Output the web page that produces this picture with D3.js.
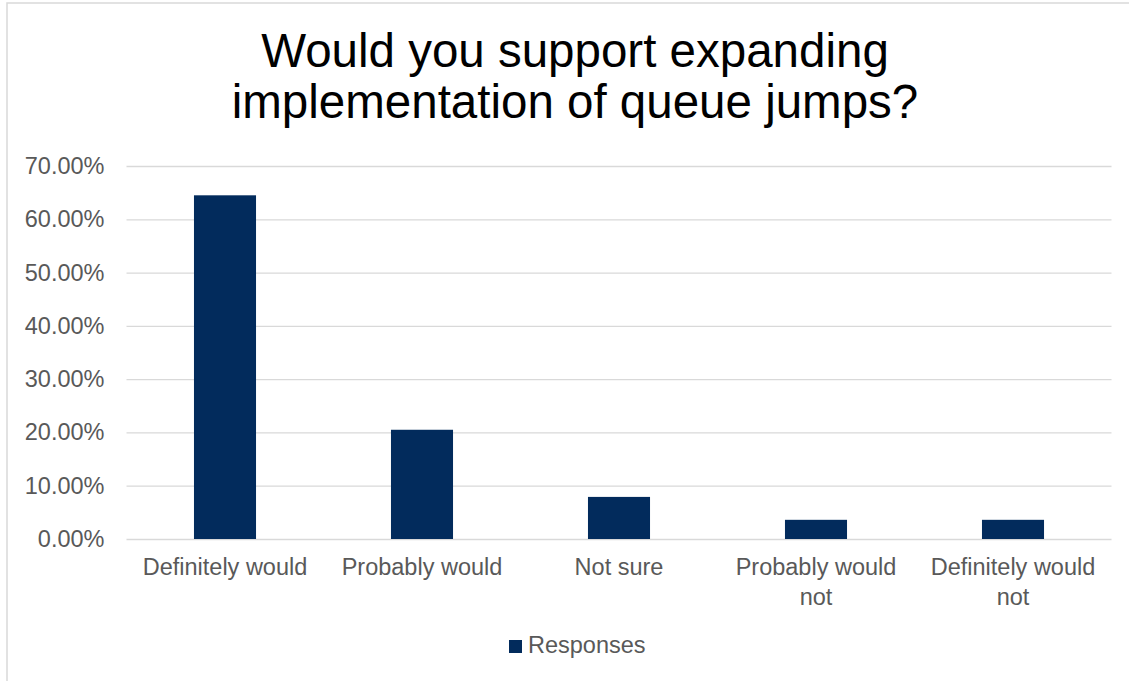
<!DOCTYPE html>
<html>
<head>
<meta charset="utf-8">
<script src="https://cdn.jsdelivr.net/npm/d3@7"></script>
<style>
  body { margin: 0; background: #fff; }
  text { font-family: "Liberation Sans", Arial, sans-serif; }
</style>
</head>
<body>
<div id="chart"></div>
<script>
// chart data
var categories = ["Definitely would", "Probably would", "Not sure", "Probably would not", "Definitely would not"];
var responses = [0.645, 0.205, 0.079, 0.036, 0.036];
var yTicks = [0, 0.1, 0.2, 0.3, 0.4, 0.5, 0.6, 0.7];
var titleLines = ["Would you support expanding", "implementation of queue jumps?"];
var seriesName = "Responses";

var w = 1129, h = 681;
var plotLeft = 126.5, plotRight = 1111.5, plotTop = 166, plotBottom = 539;
var barColor = "#022b5c", textColor = "#595959", gridColor = "#d9d9d9";
var labelSize = 23.5;

var svg = d3.select("#chart").append("svg")
    .attr("width", w)
    .attr("height", h);

// chart area border (cut off at right and bottom)
svg.append("rect")
    .attr("x", 7).attr("y", 3)
    .attr("width", w + 20).attr("height", h + 20)
    .attr("fill", "#fff")
    .attr("stroke", gridColor)
    .attr("stroke-width", 1.5);

// title
svg.append("g").selectAll("text")
    .data(titleLines)
    .enter().append("text")
    .attr("x", 575)
    .attr("y", function(d, i) { return 67 + i * 51; })
    .attr("text-anchor", "middle")
    .attr("font-size", "47.5px")
    .attr("fill", "#000")
    .text(function(d) { return d; });

var xScale = d3.scaleBand()
    .domain(categories)
    .range([plotLeft, plotRight])
    .paddingInner(0.685)
    .paddingOuter(0.3425);

var yScale = d3.scaleLinear()
    .domain([0, 0.7])
    .range([plotBottom, plotTop]);

// y axis with gridlines
var yAxis = d3.axisLeft(yScale)
    .tickValues(yTicks)
    .tickFormat(d3.format(".2%"))
    .tickSize(-(plotRight - plotLeft))
    .tickPadding(22);

var gy = svg.append("g")
    .attr("transform", "translate(" + plotLeft + ",0)")
    .call(yAxis);
gy.select(".domain").remove();
gy.selectAll(".tick line").attr("stroke", gridColor).attr("stroke-width", 1.3);
gy.selectAll(".tick text")
    .attr("font-size", labelSize + "px")
    .attr("font-family", "Liberation Sans, Arial, sans-serif")
    .attr("fill", textColor);

// bars
svg.append("g").selectAll("rect")
    .data(responses)
    .enter().append("rect")
    .attr("x", function(d, i) { return xScale(categories[i]); })
    .attr("y", function(d) { return yScale(d); })
    .attr("width", xScale.bandwidth())
    .attr("height", function(d) { return yScale(0) - yScale(d); })
    .attr("fill", barColor);

// x axis labels
var xAxis = d3.axisBottom(xScale)
    .tickSize(0)
    .tickPadding(19);

var gx = svg.append("g")
    .attr("transform", "translate(0," + plotBottom + ")")
    .call(xAxis);
gx.select(".domain").remove();
gx.selectAll(".tick text")
    .attr("font-size", labelSize + "px")
    .attr("font-family", "Liberation Sans, Arial, sans-serif")
    .attr("fill", textColor)
    .call(wrap, 182);

// break long category names onto a second line
function wrap(texts, width) {
    texts.each(function() {
        var text = d3.select(this);
        var words = text.text().split(/\s+/);
        var y = text.attr("y"), dy = text.attr("dy");
        text.text(null);
        var line = [];
        var lineNo = 0;
        var tspan = text.append("tspan").attr("x", 0).attr("y", y).attr("dy", dy);
        words.forEach(function(word) {
            line.push(word);
            tspan.text(line.join(" "));
            if (tspan.node().getComputedTextLength() > width && line.length > 1) {
                line.pop();
                tspan.text(line.join(" "));
                line = [word];
                lineNo++;
                tspan = text.append("tspan").attr("x", 0).attr("y", y)
                    .attr("dy", (lineNo * 30 + 0.71 * labelSize) + "px")
                    .text(word);
            }
        });
    });
}

// legend
var legend = svg.append("g").attr("transform", "translate(509,640)");
legend.append("rect")
    .attr("width", 13).attr("height", 13)
    .attr("fill", barColor);
legend.append("text")
    .attr("x", 19).attr("y", 13)
    .attr("font-size", labelSize + "px")
    .attr("fill", textColor)
    .text(seriesName);
</script>
</body>
</html>
